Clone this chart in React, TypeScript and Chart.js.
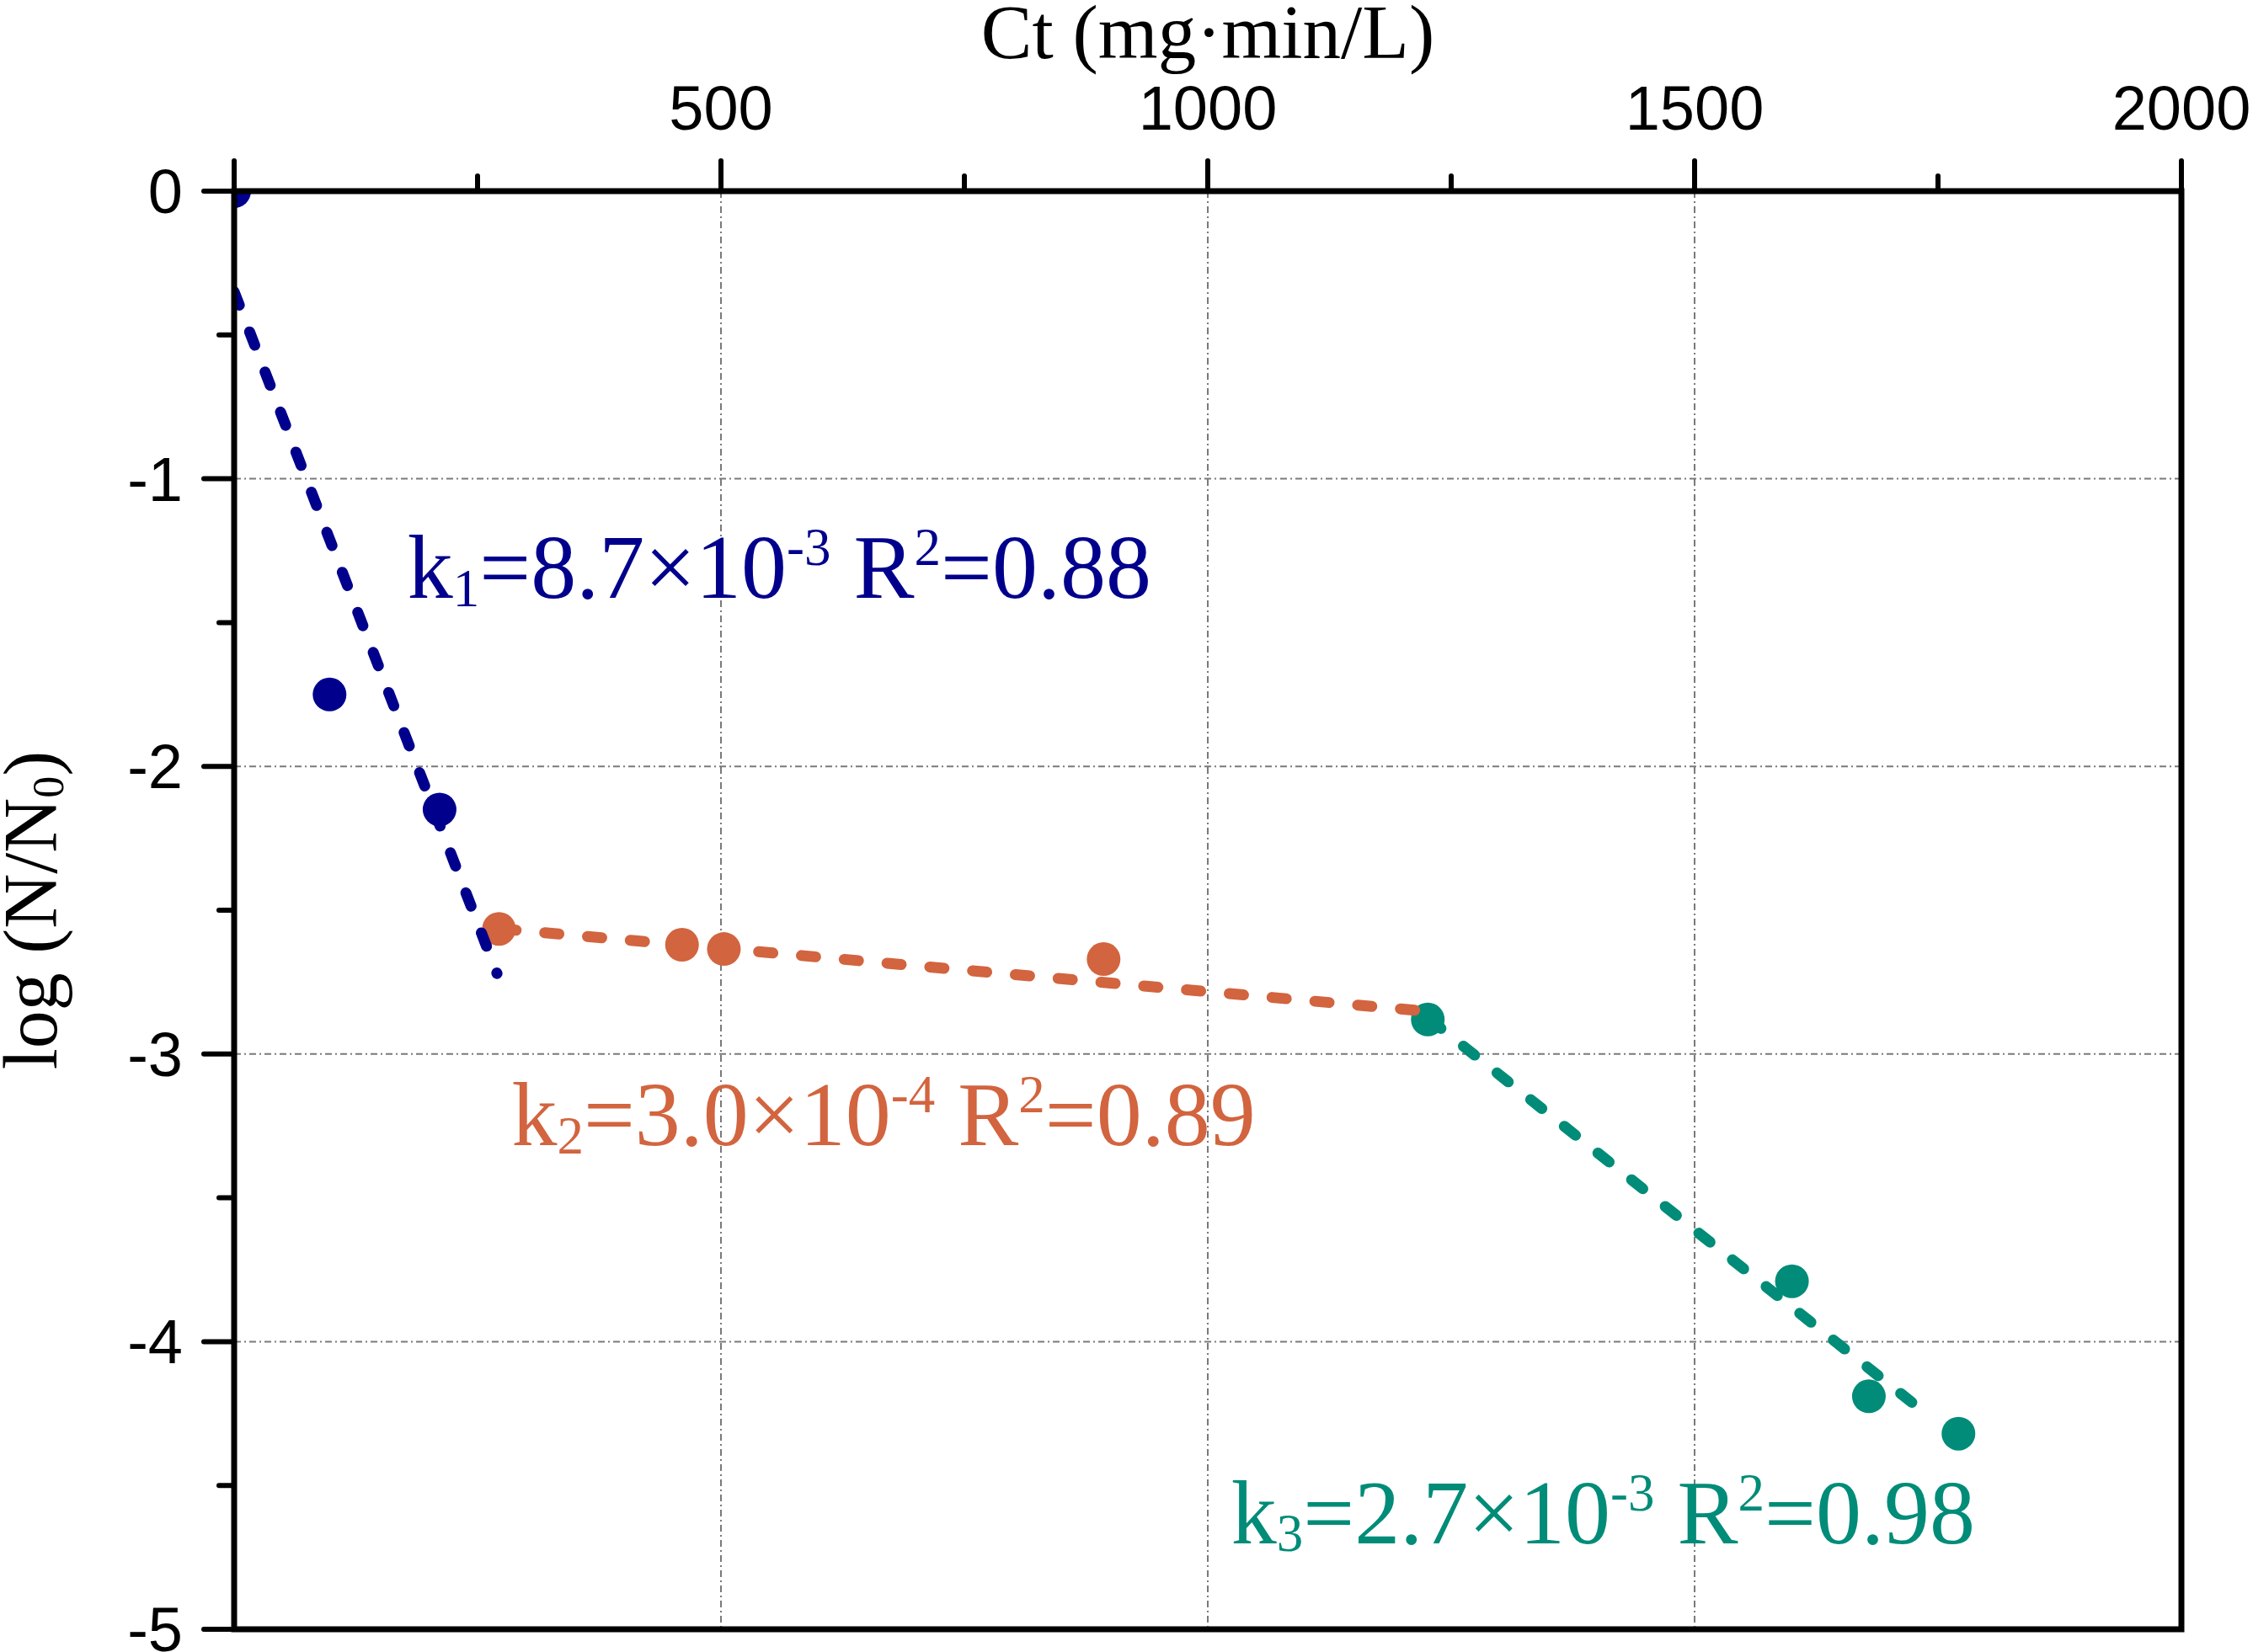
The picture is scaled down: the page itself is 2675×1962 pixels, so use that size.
import { useEffect, useRef } from "react"
import { Chart, registerables } from "chart.js"

Chart.register(...registerables)

// measured inactivation, log(N/N0) against Ct (mg·min/L)
const stage1Ct = [0, 98, 211]
const stage1Log = [0, -1.75, -2.15]
const stage2Ct = [272, 460, 503, 893]
const stage2Log = [-2.565, -2.62, -2.635, -2.67]
const stage3Ct = [1226, 1600, 1679, 1771]
const stage3Log = [-2.88, -3.79, -4.19, -4.32]

// end points of the three fitted lines
const fit1Ct = [0, 270]
const fit1Log = [-0.35, -2.72]
const fit2Ct = [275, 1221]
const fit2Log = [-2.565, -2.85]
const fit3Ct = [1228, 1745]
const fit3Log = [-2.88, -4.27]

// labelled ticks
const ctLabels = [500, 1000, 1500, 2000]
const logLabels = [0, -1, -2, -3, -4, -5]

type Seg = { text: string; sub?: boolean; sup?: boolean }

const fit1Label: Seg[] = [
  { text: "k" }, { text: "1", sub: true }, { text: "=8.7×10" }, { text: "-3", sup: true },
  { text: " R" }, { text: "2", sup: true }, { text: "=0.88" },
]
const fit2Label: Seg[] = [
  { text: "k" }, { text: "2", sub: true }, { text: "=3.0×10" }, { text: "-4", sup: true },
  { text: " R" }, { text: "2", sup: true }, { text: "=0.89" },
]
const fit3Label: Seg[] = [
  { text: "k" }, { text: "3", sub: true }, { text: "=2.7×10" }, { text: "-3", sup: true },
  { text: " R" }, { text: "2", sup: true }, { text: "=0.98" },
]

const NAVY = "#00008c"
const ORANGE = "#d2643f"
const TEAL = "#008c78"
const SERIF = "'Liberation Serif', 'Times New Roman', serif"
const SANS = "'Liberation Sans', Arial, sans-serif"

const W = 2675
const H = 1962

const pts = (xs: number[], ys: number[]) => xs.map((x, i) => ({ x, y: ys[i] }))

function drawSegs(ctx: CanvasRenderingContext2D, segs: Seg[], x: number, y: number, size: number, center = false) {
  const fontFor = (s: Seg) => `${s.sub || s.sup ? Math.round(size * 0.58) : size}px ${SERIF}`
  let total = 0
  for (const s of segs) {
    ctx.font = fontFor(s)
    total += ctx.measureText(s.text).width
  }
  let cx = center ? x - total / 2 : x
  for (const s of segs) {
    ctx.font = fontFor(s)
    const dy = s.sub ? size * 0.09 : s.sup ? -size * 0.36 : 0
    ctx.fillText(s.text, cx, y + dy)
    cx += ctx.measureText(s.text).width
  }
}

const decorations = {
  id: "decorations",
  beforeDatasetsDraw(chart: any) {
    const { ctx, chartArea: a, scales } = chart
    ctx.save()
    ctx.strokeStyle = "#7a7a7a"
    ctx.lineWidth = 2
    ctx.setLineDash([8, 4, 2, 4])
    for (const t of scales.x.ticks) {
      if (t.value % 500 !== 0 || t.value <= scales.x.min || t.value >= scales.x.max) continue
      const x = scales.x.getPixelForValue(t.value)
      ctx.beginPath(); ctx.moveTo(x, a.top); ctx.lineTo(x, a.bottom); ctx.stroke()
    }
    for (const t of scales.y.ticks) {
      if (!Number.isInteger(t.value) || t.value <= scales.y.min || t.value >= scales.y.max) continue
      const y = scales.y.getPixelForValue(t.value)
      ctx.beginPath(); ctx.moveTo(a.left, y); ctx.lineTo(a.right, y); ctx.stroke()
    }
    ctx.restore()
  },
  afterDraw(chart: any) {
    const { ctx, chartArea: a, scales } = chart
    ctx.save()
    ctx.strokeStyle = "#000"
    ctx.fillStyle = "#000"
    ctx.setLineDash([])
    // tick marks outside the frame, with their labels
    ctx.lineWidth = 6
    ctx.lineCap = "round"
    ctx.font = `74px ${SANS}`
    for (const t of scales.x.ticks) {
      const x = scales.x.getPixelForValue(t.value)
      const major = t.value % 500 === 0
      ctx.beginPath(); ctx.moveTo(x, a.top); ctx.lineTo(x, a.top - (major ? 36 : 18)); ctx.stroke()
      if (ctLabels.includes(t.value)) {
        ctx.textAlign = "center"
        ctx.textBaseline = "alphabetic"
        ctx.fillText(String(t.value), x, a.top - 73)
      }
    }
    for (const t of scales.y.ticks) {
      const y = scales.y.getPixelForValue(t.value)
      const major = Number.isInteger(t.value)
      ctx.beginPath(); ctx.moveTo(a.left, y); ctx.lineTo(a.left - (major ? 36 : 18), y); ctx.stroke()
      if (logLabels.includes(t.value)) {
        ctx.textAlign = "right"
        ctx.textBaseline = "alphabetic"
        ctx.fillText(String(t.value), a.left - 61, y + 26)
      }
    }
    // frame
    ctx.lineCap = "butt"
    ctx.lineWidth = 7
    ctx.strokeRect(a.left, a.top, a.right - a.left, a.bottom - a.top)

    // axis titles
    ctx.textBaseline = "alphabetic"
    ctx.textAlign = "left"
    drawSegs(ctx, [{ text: "Ct (mg·min/L)" }], (a.left + a.right) / 2, 69, 91, true)
    ctx.save()
    ctx.translate(67, (a.top + a.bottom) / 2)
    ctx.rotate(-Math.PI / 2)
    drawSegs(ctx, [{ text: "log (N/N" }, { text: "0", sub: true }, { text: ")" }], 0, 0, 90, true)
    ctx.restore()

    // fit annotations
    const at = (x: number, y: number) => [scales.x.getPixelForValue(x), scales.y.getPixelForValue(y)]
    ctx.fillStyle = NAVY
    const [x1, y1] = at(178, -1.414)
    drawSegs(ctx, fit1Label, x1, y1, 108)
    ctx.fillStyle = ORANGE
    const [x2, y2] = at(285, -3.317)
    drawSegs(ctx, fit2Label, x2, y2, 108)
    ctx.fillStyle = TEAL
    const [x3, y3] = at(1024, -4.7)
    drawSegs(ctx, fit3Label, x3, y3, 108)
    ctx.restore()
  },
}

export default function App() {
  const chartRef = useRef<HTMLCanvasElement>(null)
  const chartInstance = useRef<Chart | null>(null)

  useEffect(() => {
    document.body.style.margin = "0"
    document.body.style.overflow = "hidden"
    if (!chartRef.current) return
    if (chartInstance.current) chartInstance.current.destroy()

    const fitLine = (xs: number[], ys: number[], color: string) => ({
      type: "line" as const,
      data: pts(xs, ys),
      showLine: true,
      borderColor: color,
      borderWidth: 13,
      borderDash: [17, 34],
      borderCapStyle: "round" as const,
      pointRadius: 0,
      fill: false,
    })
    const dots = (xs: number[], ys: number[], color: string) => ({
      type: "scatter" as const,
      data: pts(xs, ys),
      backgroundColor: color,
      borderWidth: 0,
      pointRadius: 20,
      clip: 0,
    })

    chartInstance.current = new Chart(chartRef.current, {
      type: "scatter",
      data: {
        datasets: [
          fitLine(fit1Ct, fit1Log, NAVY),
          fitLine(fit2Ct, fit2Log, ORANGE),
          fitLine(fit3Ct, fit3Log, TEAL),
          dots(stage1Ct, stage1Log, NAVY),
          dots(stage2Ct, stage2Log, ORANGE),
          dots(stage3Ct, stage3Log, TEAL),
        ] as any,
      },
      plugins: [decorations],
      options: {
        animation: false,
        responsive: true,
        maintainAspectRatio: false,
        layout: { autoPadding: false, padding: { left: 0, top: 0, right: 85, bottom: 27 } },
        plugins: { legend: { display: false }, tooltip: { enabled: false } },
        scales: {
          x: {
            type: "linear",
            position: "top",
            min: 0,
            max: 2000,
            afterFit: (s: any) => { s.height = 227 },
            grid: { display: false, drawTicks: false },
            border: { display: false },
            ticks: { stepSize: 250, autoSkip: false, display: false },
          },
          y: {
            type: "linear",
            min: -5,
            max: 0,
            afterFit: (s: any) => { s.width = 278 },
            grid: { display: false, drawTicks: false },
            border: { display: false },
            ticks: { stepSize: 0.5, autoSkip: false, display: false },
          },
        },
      } as any,
    })

    return () => {
      if (chartInstance.current) {
        chartInstance.current.destroy()
        chartInstance.current = null
      }
    }
  }, [])

  return (
    <div style={{ position: "relative", width: W, height: H, background: "#fff" }}>
      <canvas ref={chartRef} />
    </div>
  )
}
